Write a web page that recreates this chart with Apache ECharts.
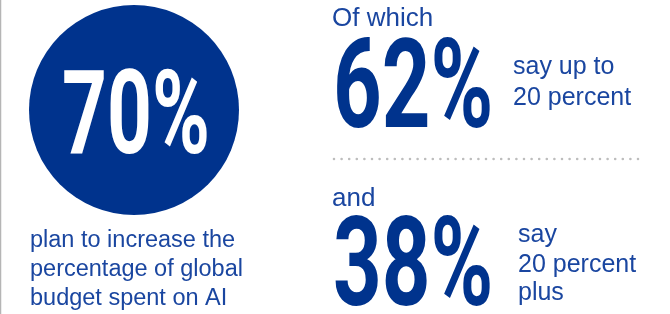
<!DOCTYPE html>
<html>
<head>
<meta charset="utf-8">
<script src="https://cdn.jsdelivr.net/npm/echarts@6/dist/echarts.min.js"></script>
<style>
  html, body { margin: 0; padding: 0; background: #fff; }
  #chart { width: 670px; height: 314px; }
</style>
</head>
<body>
<div id="chart"></div>
<script>
// figures from the infographic
const shareValues = [70, 62, 38];
const caption = ['plan to increase the', 'percentage of global', 'budget spent on AI'];
const leadIns = ['Of which', 'and'];
const notes = [['say up to', '20 percent'], ['say', '20 percent', 'plus']];

const blue = '#00338D';
const textBlue = '#1a46a0';
const bigFont = 'bold 125px Roboto';
const smallFont = '23.5px "Liberation Sans"';

const chart = echarts.init(document.getElementById('chart'), null, { renderer: 'canvas' });

const elements = [];

// thin grey rule on the left edge
elements.push({
  type: 'line',
  shape: { x1: 0.5, y1: 0, x2: 0.5, y2: 314 },
  style: { stroke: '#b5b5b5', lineWidth: 1.5 }
});

// big circle with 70%
elements.push({
  type: 'circle',
  shape: { cx: 134, cy: 110, r: 105 },
  style: { fill: blue }
});
elements.push({
  type: 'text',
  x: 62, y: 124, scaleX: 0.67,
  style: {
    text: shareValues[0] + '%',
    font: 'bold 117px Roboto',
    fill: '#fff',
    textAlign: 'left',
    textVerticalAlign: 'middle'
  }
});

// caption under the circle
caption.forEach(function (line, i) {
  elements.push({
    type: 'text',
    x: 30, y: 241 + i * 29,
    style: {
      text: line, font: smallFont, fill: textBlue,
      textAlign: 'left', textVerticalAlign: 'middle'
    }
  });
});

// right side blocks
const blockTop = [0, 178];
[1, 2].forEach(function (k, b) {
  const top = blockTop[b];
  elements.push({
    type: 'text',
    x: 332, y: top + (b === 0 ? 19 : 21),
    style: {
      text: leadIns[b], font: '26px "Liberation Sans"', fill: textBlue,
      textAlign: 'left', textVerticalAlign: 'middle'
    }
  });
  elements.push({
    type: 'text',
    x: 333, y: top + 96, scaleX: 0.68,
    style: {
      text: shareValues[k] + '%', font: bigFont, fill: blue,
      textAlign: 'left', textVerticalAlign: 'middle'
    }
  });
  const noteX = b === 0 ? 513 : 518;
  const noteY = b === 0 ? [67, 98] : [57, 87, 115];
  notes[b].forEach(function (line, i) {
    elements.push({
      type: 'text',
      x: noteX, y: top + noteY[i],
      style: {
        text: line, font: '25px "Liberation Sans"', fill: textBlue,
        textAlign: 'left', textVerticalAlign: 'middle'
      }
    });
  });
});

// dotted divider
elements.push({
  type: 'line',
  shape: { x1: 334, y1: 159, x2: 645, y2: 159 },
  style: { stroke: '#bdbdbd', lineWidth: 2.6, lineDash: [0, 7.6], lineCap: 'round' }
});

chart.setOption({
  animation: false,
  graphic: { elements: elements }
});
</script>
</body>
</html>
